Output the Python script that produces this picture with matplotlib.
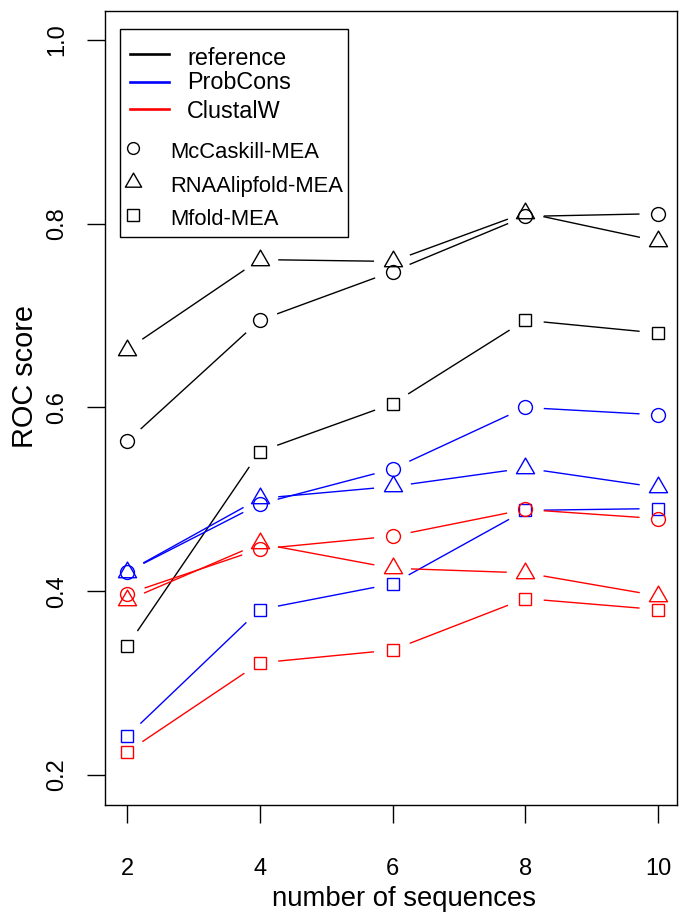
import numpy as np
import matplotlib
matplotlib.use("Agg")
import matplotlib.pyplot as plt
from matplotlib.lines import Line2D
from matplotlib.patches import Rectangle
from matplotlib.path import Path

plt.rcParams['font.family'] = ['Liberation Sans', 'DejaVu Sans']

# ---------------- data ----------------
n_seqs = [2, 4, 6, 8, 10]

ref_mccaskill = [0.563, 0.695, 0.748, 0.808, 0.811]
ref_alifold = [0.663, 0.761, 0.759, 0.812, 0.781]
ref_mfold = [0.340, 0.552, 0.604, 0.695, 0.681]

probcons_mccaskill = [0.421, 0.495, 0.533, 0.600, 0.592]
probcons_alifold = [0.421, 0.501, 0.514, 0.534, 0.513]
probcons_mfold = [0.242, 0.380, 0.408, 0.488, 0.490]

clustalw_mccaskill = [0.397, 0.446, 0.460, 0.489, 0.479]
clustalw_alifold = [0.390, 0.452, 0.425, 0.420, 0.395]
clustalw_mfold = [0.225, 0.322, 0.336, 0.392, 0.380]

aligners = ["reference", "ProbCons", "ClustalW"]
aligner_colors = ["black", "blue", "red"]
methods = ["McCaskill-MEA", "RNAAlipfold-MEA", "Mfold-MEA"]

x_ticks = [2, 4, 6, 8, 10]
y_ticks = [0.2, 0.4, 0.6, 0.8, 1.0]
y_tick_labels = ["0.2", "0.4", "0.6", "0.8", "1.0"]
x_label = "number of sequences"
y_label = "ROC score"

# ---------------- figure ----------------
W, H, DPI = 680, 913, 100
fig = plt.figure(figsize=(W / DPI, H / DPI), dpi=DPI)

def fx(px):
    return px / W

def fy(py):
    return 1 - py / H

ax = fig.add_axes([fx(105), fy(805), fx(677) - fx(105), fy(11) - fy(805)])
ax.set_xlim(1.6686, 10.286)
ax.set_ylim(0.1673, 1.0316)

for s in ax.spines.values():
    s.set_linewidth(1.0)
    s.set_color("black")

# R-like triangle (pch=2) centred on centroid
tri = Path([(0, 1), (-0.866, -0.5), (0.866, -0.5), (0, 1)],
           [Path.MOVETO, Path.LINETO, Path.LINETO, Path.CLOSEPOLY])
marker_styles = {"McCaskill-MEA": ("o", 10.0),
                 "RNAAlipfold-MEA": (tri, 15.0),
                 "Mfold-MEA": ("s", 9.0)}

GAP = 18.5  # pixels, R type="b" style gap

def draw_b(xs, ys, color, method):
    mk, ms = marker_styles[method]
    ax.plot(xs, ys, linestyle="none", marker=mk, ms=ms, mfc="none",
            mec=color, mew=1.0, zorder=3)
    pts = ax.transData.transform(np.column_stack([xs, ys]))
    inv = ax.transData.inverted()
    for p0, p1 in zip(pts[:-1], pts[1:]):
        d = p1 - p0
        L = np.hypot(*d)
        if L <= 2 * GAP:
            continue
        u = d / L
        seg = inv.transform(np.vstack([p0 + u * GAP, p1 - u * GAP]))
        ax.plot(seg[:, 0], seg[:, 1], color=color, lw=1.0, zorder=2,
                solid_capstyle="butt")

series = [
    (ref_mccaskill, "black", "McCaskill-MEA"),
    (ref_alifold, "black", "RNAAlipfold-MEA"),
    (ref_mfold, "black", "Mfold-MEA"),
    (probcons_mccaskill, "blue", "McCaskill-MEA"),
    (probcons_alifold, "blue", "RNAAlipfold-MEA"),
    (probcons_mfold, "blue", "Mfold-MEA"),
    (clustalw_mccaskill, "red", "McCaskill-MEA"),
    (clustalw_alifold, "red", "RNAAlipfold-MEA"),
    (clustalw_mfold, "red", "Mfold-MEA"),
]
for ys, col, m in series:
    draw_b(n_seqs, ys, col, m)

# ticks
ax.set_xticks(x_ticks)
ax.set_xticklabels([str(v) for v in x_ticks], fontsize=17, va="baseline")
ax.set_yticks(y_ticks)
ax.set_yticklabels(y_tick_labels, fontsize=17, rotation=90,
                   rotation_mode="anchor", ha="center", va="baseline")
ax.tick_params(axis="x", direction="out", length=13, width=1.0, pad=37.4)
ax.tick_params(axis="y", direction="out", length=13, width=1.0, pad=17.3)

# axis labels
fig.text(fx(404.5), fy(905.5), x_label, fontsize=19.8, ha="center", va="baseline")
fig.text(fx(33), fy(376), y_label, fontsize=20.8, rotation=90,
         rotation_mode="anchor", ha="center", va="baseline")

# legend (drawn manually, R style)
fig.add_artist(Rectangle((fx(120), fy(237)), fx(348) - fx(120), fy(29) - fy(237),
                         transform=fig.transFigure, fill=False, lw=1.0,
                         edgecolor="black"))
line_ys = [54, 82, 109]
line_baselines = [65, 89, 118]
for name, col, ly, bl in zip(aligners, aligner_colors, line_ys, line_baselines):
    fig.add_artist(Line2D([fx(130), fx(169)], [fy(ly), fy(ly)], color=col,
                          lw=1.9, transform=fig.transFigure))
    fig.text(fx(187), fy(bl), name, fontsize=16.8, ha="left", va="baseline")

mark_ys = [148, 182, 215]
mark_baselines = [158, 192, 225]
legend_scale = {"McCaskill-MEA": 0.85, "RNAAlipfold-MEA": 0.9, "Mfold-MEA": 1.0}
for name, my, bl in zip(methods, mark_ys, mark_baselines):
    mk, ms = marker_styles[name]
    fig.add_artist(Line2D([fx(133)], [fy(my)], linestyle="none", marker=mk,
                          ms=ms * legend_scale[name], mfc="none", mec="black",
                          mew=1.0, transform=fig.transFigure))
    fig.text(fx(170), fy(bl), name, fontsize=15.8, ha="left", va="baseline")

fig.savefig("out.png", dpi=DPI)
